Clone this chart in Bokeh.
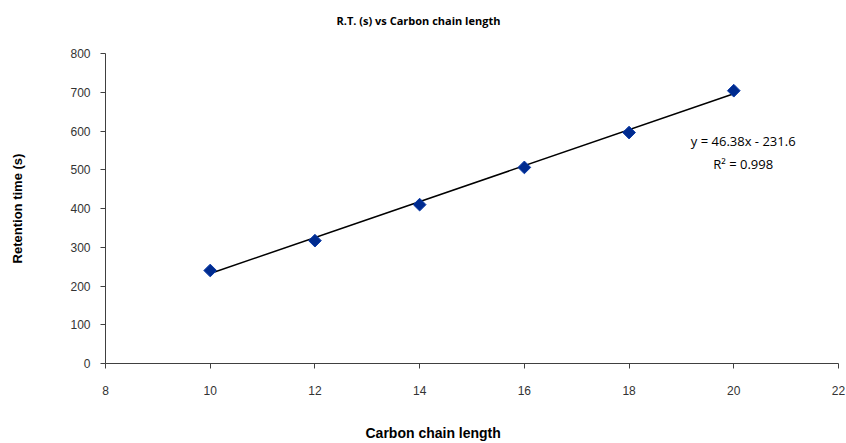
from bokeh.plotting import figure
from bokeh.models import Label, Range1d, FixedTicker, Title
from bokeh.embed import file_html
from bokeh.resources import INLINE
import math

carbon_length = [10, 12, 14, 16, 18, 20]
retention_time = [240, 317, 410, 506, 596, 704]
slope = 46.38
intercept = -231.6
r_squared = 0.998
x_ticks = [8, 10, 12, 14, 16, 18, 20, 22]
y_ticks = [0, 100, 200, 300, 400, 500, 600, 700, 800]

p = figure(width=846, height=443, output_backend="svg", toolbar_location=None,
           x_range=Range1d(8, 22), y_range=Range1d(0, 800),
           min_border_left=105, min_border_right=8, min_border_top=53, min_border_bottom=80)
p.outline_line_color = None
p.xgrid.grid_line_color = None
p.ygrid.grid_line_color = None
p.background_fill_color = "white"
p.border_fill_color = "white"

def spacer(h):
    return Title(text=".", text_font_size="1px", text_color="white", standoff=h)

# spacer nearest the frame, then the chart title
p.add_layout(spacer(23), "above")
p.title.text = "R.T. (s) vs Carbon chain length"
p.title.align = "left"
p.title.offset = 231
p.title.standoff = 0
p.title.text_font = "Open Sans"
p.title.text_font_style = "bold"
p.title.text_font_size = "11px"
p.title.text_color = "black"

for ax in (p.xaxis[0], p.yaxis[0]):
    ax.axis_line_color = "#404040"
    ax.major_tick_line_color = "#404040"
    ax.minor_tick_line_color = None
    ax.major_tick_in = 0
    ax.major_tick_out = 5
    ax.major_label_text_font = "Liberation Sans"
    ax.major_label_text_font_size = "12px"
    ax.major_label_text_color = "#333333"

p.xaxis[0].ticker = FixedTicker(ticks=x_ticks)
p.yaxis[0].ticker = FixedTicker(ticks=y_ticks)
p.xaxis[0].major_label_standoff = 17
p.yaxis[0].major_label_standoff = 10

p.yaxis[0].axis_label = "Retention time (s)"
p.yaxis[0].axis_label_text_font = "Liberation Sans"
p.yaxis[0].axis_label_text_font_style = "bold"
p.yaxis[0].axis_label_text_font_size = "13px"
p.yaxis[0].axis_label_text_color = "black"
p.yaxis[0].axis_label_standoff = 42

p.add_layout(spacer(22), "below")
p.add_layout(Title(text="Carbon chain length", align="left", offset=260,
                   text_font="Liberation Sans", text_font_style="bold",
                   text_font_size="14px", text_color="black", standoff=0), "below")

# trend line
tx = [carbon_length[0], carbon_length[-1]]
ty = [slope * v + intercept for v in tx]
p.line(tx, ty, line_color="black", line_width=1.5)

p.scatter(carbon_length, retention_time, marker="square", size=9, angle=math.pi / 4,
          fill_color="#002b8f", line_color="#0a3aa8", line_width=1)

p.add_layout(Label(x=20.18, y=573, text="y = %.2fx - %.1f" % (slope, -intercept),
                   text_font="Open Sans", text_font_size="13px", text_align="center",
                   text_baseline="middle", text_color="black"))
p.add_layout(Label(x=20.18, y=516, text="R\u00b2 = %.3f" % r_squared,
                   text_font="Open Sans", text_font_size="13px", text_align="center",
                   text_baseline="middle", text_color="black"))

open("out.html", "w").write(file_html(p, INLINE))
